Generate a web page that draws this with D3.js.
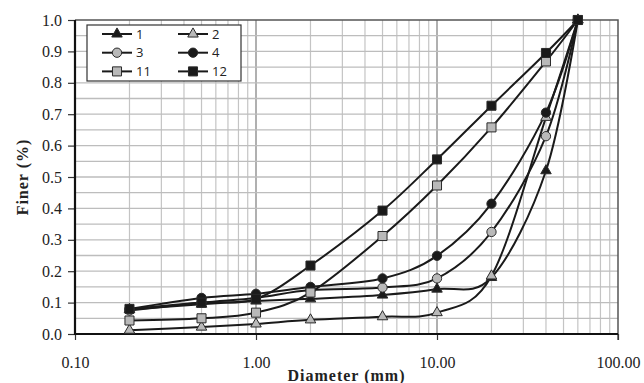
<!DOCTYPE html>
<html>
<head>
<meta charset="utf-8">
<script src="https://cdn.jsdelivr.net/npm/d3@7"></script>
<style>
  body { margin: 0; background: #fff; }
  svg { display: block; }
</style>
</head>
<body>
<div id="chart"></div>
<script>
// sieve sizes (mm)
const diameters = [0.2, 0.5, 1, 2, 5, 10, 20, 40, 60];

// fraction finer
const s1  = [0.078, 0.095, 0.105, 0.112, 0.124, 0.143, 0.18, 0.52, 1.0];
const s2  = [0.012, 0.022, 0.032, 0.045, 0.055, 0.068, 0.185, 0.69, 1.0];
const s3  = [0.075, 0.10, 0.115, 0.14, 0.148, 0.177, 0.325, 0.63, 1.0];
const s4  = [0.08, 0.115, 0.128, 0.15, 0.177, 0.249, 0.415, 0.705, 1.0];
const s11 = [0.043, 0.05, 0.068, 0.132, 0.312, 0.473, 0.658, 0.868, 1.0];
const s12 = [0.08, 0.10, 0.112, 0.218, 0.393, 0.556, 0.727, 0.895, 1.0];

const seriesNames = ["1", "2", "3", "4", "11", "12"];
const xTicks = [0.1, 1, 10, 100];
const yTicks = [0, 0.1, 0.2, 0.3, 0.4, 0.5, 0.6, 0.7, 0.8, 0.9, 1.0];

const dark = "#1a1a1a", grey = "#b9b9b9";
const series = [
  { vals: s1,  shape: d3.symbolTriangle, fill: dark },
  { vals: s2,  shape: d3.symbolTriangle, fill: grey },
  { vals: s3,  shape: d3.symbolCircle,   fill: grey },
  { vals: s4,  shape: d3.symbolCircle,   fill: dark },
  { vals: s11, shape: d3.symbolSquare,   fill: grey },
  { vals: s12, shape: d3.symbolSquare,   fill: dark },
];
function sym(shape) {
  const size = shape === d3.symbolTriangle ? 48 : shape === d3.symbolCircle ? 68 : 82;
  return d3.symbol().type(shape).size(size)();
}

const W = 644, H = 383;
const m = { left: 75, right: 618, top: 20, bottom: 334 };

const svg = d3.select("#chart").append("svg").attr("width", W).attr("height", H);

const x = d3.scaleLog().domain([0.1, 100]).range([m.left, m.right]);
const y = d3.scaleLinear().domain([0, 1]).range([m.bottom, m.top]);

/* GRID */
const grid = svg.append("g").attr("class", "grid");
const minorX = [];
[0.1, 1, 10].forEach((d) => { for (let k = 2; k <= 9; k++) minorX.push(d * k); });
grid.selectAll("line.vx").data(minorX).join("line")
  .attr("x1", (d) => x(d)).attr("x2", (d) => x(d))
  .attr("y1", m.top).attr("y2", m.bottom)
  .attr("stroke", "#c4c4c4").attr("stroke-width", 1.2);
grid.selectAll("line.vmaj").data([1, 10]).join("line")
  .attr("x1", (d) => x(d)).attr("x2", (d) => x(d))
  .attr("y1", m.top).attr("y2", m.bottom)
  .attr("stroke", "#a8a8a8").attr("stroke-width", 1.8);
const hLines = d3.range(1, 20).map((i) => i * 0.05);
grid.selectAll("line.h").data(hLines).join("line")
  .attr("x1", m.left).attr("x2", m.right)
  .attr("y1", (d) => y(d)).attr("y2", (d) => y(d))
  .attr("stroke", "#bdbdbd").attr("stroke-width", 1.3);

// top / right border
svg.append("path")
  .attr("d", `M${m.left},${m.top}H${m.right}V${m.bottom + 6}`)
  .attr("fill", "none").attr("stroke", "#555").attr("stroke-width", 1.5);

/* AXES */
const yAxis = svg.append("g").attr("transform", `translate(${m.left},0)`)
  .call(d3.axisLeft(y).tickValues(yTicks).tickFormat(d3.format(".1f")).tickSize(7).tickPadding(6));
yAxis.select(".domain").remove();
yAxis.selectAll(".tick line").attr("stroke", "#333").attr("stroke-width", 1.2);
yAxis.selectAll("text").attr("font-family", "Liberation Serif, serif").attr("font-size", 16).attr("fill", "#222");

const xAxis = svg.append("g").attr("transform", `translate(0,${m.bottom})`)
  .call(d3.axisBottom(x).tickValues(xTicks).tickFormat(d3.format(".2f")).tickSize(6).tickPadding(17));
xAxis.select(".domain").remove();
xAxis.selectAll(".tick line").attr("stroke", "#333").attr("stroke-width", 1.2);
xAxis.selectAll("text").attr("font-family", "Liberation Serif, serif").attr("font-size", 16).attr("fill", "#222");

svg.append("line").attr("x1", m.left).attr("x2", m.left).attr("y1", m.top).attr("y2", m.bottom + 1)
  .attr("stroke", "#111").attr("stroke-width", 2.2);
svg.append("line").attr("x1", m.left - 1).attr("x2", m.right).attr("y1", m.bottom).attr("y2", m.bottom)
  .attr("stroke", "#111").attr("stroke-width", 2.2);

/* TITLES */
svg.append("text")
  .attr("x", (m.left + m.right) / 2).attr("y", 381)
  .attr("text-anchor", "middle")
  .attr("font-family", "Liberation Serif, serif").attr("font-weight", "bold")
  .attr("font-size", 16).attr("letter-spacing", 1).attr("fill", "#222")
  .text("Diameter (mm)");
svg.append("text")
  .attr("transform", `translate(28,${(m.top + m.bottom) / 2}) rotate(-90)`)
  .attr("text-anchor", "middle")
  .attr("font-family", "Liberation Serif, serif").attr("font-weight", "bold")
  .attr("font-size", 16).attr("letter-spacing", 1).attr("fill", "#222")
  .text("Finer (%)");

/* LINES */
const line = d3.line()
  .x((d) => x(d[0])).y((d) => y(d[1]))
  .curve(d3.curveCatmullRom.alpha(0));
const plot = svg.append("g").attr("class", "series");
series.forEach((s) => {
  const pts = diameters.map((d, i) => [d, s.vals[i]]);
  plot.append("path").datum(pts).attr("d", line)
    .attr("fill", "none").attr("stroke", dark).attr("stroke-width", 2);
});
series.forEach((s) => {
  const pts = diameters.map((d, i) => [d, s.vals[i]]);
  plot.append("g").selectAll("path").data(pts).join("path")
    .attr("transform", (d) => `translate(${x(d[0])},${y(d[1])})`)
    .attr("d", sym(s.shape))
    .attr("fill", s.fill).attr("stroke", "#2a2a2a").attr("stroke-width", 1);
});

/* LEGEND */
const legend = svg.append("g").attr("class", "legend");
legend.append("rect").attr("x", 87).attr("y", 25).attr("width", 154).attr("height", 56)
  .attr("fill", "#fff").attr("stroke", "#333").attr("stroke-width", 1.2);
series.forEach((s, i) => {
  const col = i % 2, row = Math.floor(i / 2);
  const lx = 102 + col * 76, ly = 34 + row * 18.7;
  const g = legend.append("g");
  g.append("line").attr("x1", lx).attr("x2", lx + 30).attr("y1", ly).attr("y2", ly)
    .attr("stroke", dark).attr("stroke-width", 2);
  g.append("path").attr("transform", `translate(${lx + 15},${ly})`).attr("d", sym(s.shape))
    .attr("fill", s.fill).attr("stroke", "#2a2a2a").attr("stroke-width", 1);
  g.append("text").attr("x", lx + 34).attr("y", ly).attr("dy", "0.36em")
    .attr("font-family", "Open Sans, sans-serif").attr("font-size", 13).attr("fill", "#222")
    .text(seriesNames[i]);
});
</script>
</body>
</html>
